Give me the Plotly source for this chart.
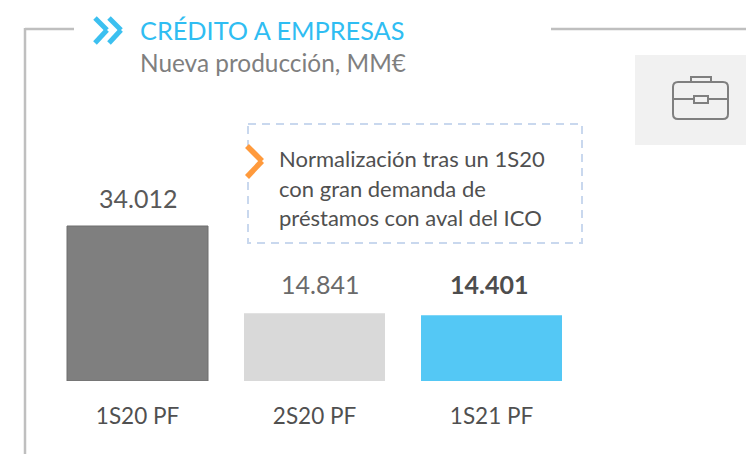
import plotly.graph_objects as go

categories = ["1S20 PF", "2S20 PF", "1S21 PF"]
values = [34012, 14841, 14401]
bar_colors = ["#7f7f7f", "#d9d9d9", "#54c8f5"]
line_colors = ["#6e6e6e", "#d9d9d9", "#54c8f5"]
line_widths = [1, 0, 0]
label_templates = ["{:s}", "{:s}", "<b>{:s}</b>"]
label_colors = ["#595959", "#6a6a6a", "#4d4d4d"]
label_shifts = [28, 29.5, 31.5]
label_xshifts = [0.5, 5, -3]
title = "CRÉDITO A EMPRESAS"
subtitle = "Nueva producción, MM€"
note_lines = ["Normalización tras un 1S20", "con gran demanda de", "préstamos con aval del ICO"]

W, H = 746, 454
FONT = "Lato"
def px(x): return x / W
def py(y): return 1 - y / H

fig = go.Figure()
fig.add_bar(
    x=categories, y=values, width=141 / 177,
    marker=dict(color=bar_colors, line=dict(color=line_colors, width=line_widths)),
    hoverinfo="skip",
)

def seg(x0, y0, x1, y1, color, width, dash="solid"):
    return dict(type="line", xref="paper", yref="paper", x0=px(x0), y0=py(y0), x1=px(x1), y1=py(y1),
                line=dict(color=color, width=width, dash=dash), layer="above")
def rect(x0, y0, x1, y1, fill, line=None, width=0, dash="solid"):
    return dict(type="rect", xref="paper", yref="paper", x0=px(x0), y0=py(y0), x1=px(x1), y1=py(y1),
                fillcolor=fill, line=dict(color=line or fill, width=width, dash=dash), layer="above")
def chevron(x0, y0, x1, y1, y2, color, width):
    return [seg(x0, y0, x1, y1, color, width), seg(x1, y1, x0, y2, color, width)]

GREY = "#bfbfbf"
shapes = [seg(25, 29, 74, 29, GREY, 2.5), seg(25, 28, 25, 454, GREY, 2.5), seg(551, 29, 746, 29, GREY, 2.5)]
shapes += chevron(95, 18, 107, 30, 43, "#3cc0f0", 5) + chevron(109, 18, 121, 30, 43, "#3cc0f0", 5)
shapes += [rect(635, 55, 746, 145, "#f1f1f1")]
ICON = "#7f7f7f"
shapes += [
    dict(type="path", xref="paper", yref="paper", layer="above", line=dict(color=ICON, width=2),
         path=f"M {px(678)} {py(82)} L {px(723)} {py(82)} Q {px(728)} {py(82)} {px(728)} {py(87)} "
              f"L {px(728)} {py(114)} Q {px(728)} {py(119)} {px(723)} {py(119)} L {px(678)} {py(119)} "
              f"Q {px(673)} {py(119)} {px(673)} {py(114)} L {px(673)} {py(87)} Q {px(673)} {py(82)} {px(678)} {py(82)} Z"),
    dict(type="path", xref="paper", yref="paper", layer="above", line=dict(color=ICON, width=2),
         path=f"M {px(691)} {py(82)} L {px(691)} {py(77)} L {px(711)} {py(77)} L {px(711)} {py(82)}"),
    seg(673, 99, 694, 99, ICON, 2), seg(708, 99, 728, 99, ICON, 2),
    rect(694, 96, 708, 103, "#f1f1f1", ICON, 2),
]
DASH = "#c9d8ee"
shapes += [rect(248, 124, 582, 243, "rgba(0,0,0,0)", DASH, 2, "8px,6px")]
shapes += [rect(244, 146, 252, 178, "white")]
shapes += chevron(247, 146, 262, 161, 177, "#ff9a3c", 5.5)

def text(x, y, s, size, color, anchor="left"):
    return dict(x=px(x), y=py(y), xref="paper", yref="paper", text=s, showarrow=False, xanchor=anchor, yanchor="middle",
                align="left", font=dict(family=FONT, size=size, color=color))
annotations = [
    text(138, 30, title, 25.3, "#2fbdf2"),
    text(137.5, 63, subtitle, 24.4, "#7f7f7f"),
]
for line, y in zip(note_lines, [158, 188, 217]):
    annotations.append(text(277, y, line, 22, "#505050"))
for cat, val, tmpl, col, shift, xs in zip(categories, values, label_templates, label_colors, label_shifts, label_xshifts):
    annotations.append(dict(x=cat, y=val, xref="x", yref="y", yanchor="middle", showarrow=False, yshift=shift, xshift=xs,
                            text=tmpl.format(f"{val:,}".replace(",", ".")),
                            font=dict(family=FONT, size=25, color=col)))

fig.update_layout(
    width=W, height=H, autosize=False, margin=dict(l=0, r=0, t=0, b=0),
    paper_bgcolor="white", plot_bgcolor="white", showlegend=False,
    xaxis=dict(domain=[px(49), px(580)], type="category", showgrid=False, showline=False, zeroline=False,
               ticks="", tickfont=dict(family=FONT, size=22.5, color="#505050"), ticklabelstandoff=19, automargin=False),
    yaxis=dict(domain=[py(381), py(100)], range=[0, 34012 * 281 / 155], visible=False),
    shapes=shapes, annotations=annotations,
)
fig.write_html("out.html", config=dict(displayModeBar=False),
               post_script="document.body.style.margin='0';document.body.style.overflow='hidden';")
